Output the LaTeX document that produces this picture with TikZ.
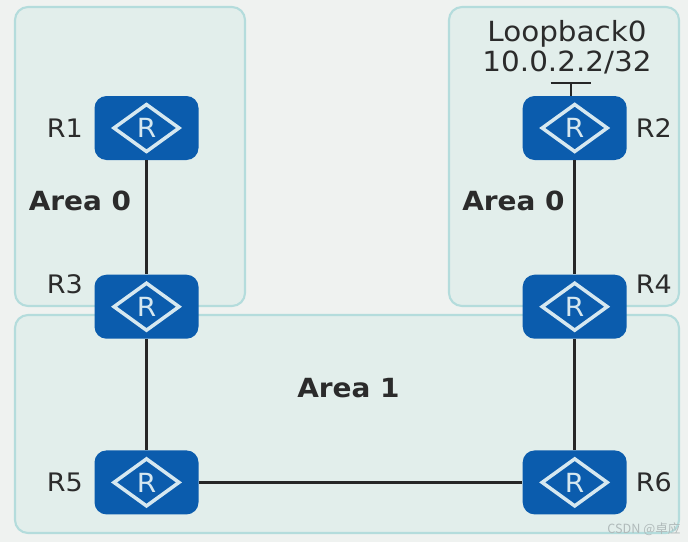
\documentclass[tikz,border=0pt]{standalone}
\usepackage{fontspec}
\setmainfont[FakeStretch=1.06]{DejaVu Sans}
\newfontfamily\cjkmark{Noto Sans CJK SC}
\usetikzlibrary{positioning}
\definecolor{pagebg}{HTML}{EFF2F0}
\definecolor{areafill}{HTML}{E2EEEB}
\definecolor{areaedge}{HTML}{B4DCDC}
\definecolor{routerblue}{HTML}{0B5CAD}
\definecolor{routerline}{HTML}{D6E8F0}
\definecolor{inktext}{HTML}{2B2B2B}
\definecolor{markgrey}{HTML}{B0BABA}

\begin{document}
\begin{tikzpicture}[
    node distance=2.25cm and 6.47cm,
    areabox/.style={draw=areaedge, line width=1.2pt, fill=areafill, rounded corners=0.26cm, inner sep=0pt},
    router/.style={fill=routerblue, rounded corners=0.24cm, minimum width=2.08cm, minimum height=1.28cm, inner sep=0pt,
        text=routerline, font=\fontsize{15}{15}\selectfont,
        path picture={\draw[routerline, line width=2pt, sharp corners]
            ([xshift=-0.65cm]path picture bounding box.center) -- ([yshift=0.47cm]path picture bounding box.center)
            -- ([xshift=0.65cm]path picture bounding box.center) -- ([yshift=-0.47cm]path picture bounding box.center) -- cycle;}},
    tag/.style={text=inktext, font=\fontsize{14.5}{14.5}\selectfont, inner sep=0pt},
    areatag/.style={text=inktext, font=\fontsize{15}{15}\selectfont\bfseries, inner sep=0pt},
    link/.style={draw=black!85, line width=1.6pt}
]
\useasboundingbox (0,0) rectangle (13.76,10.84);
\fill[pagebg] (0,0) rectangle (13.76,10.84);

\node[areabox, minimum width=4.6cm, minimum height=5.98cm] (area0l) at (2.6,7.71) {};
\node[areabox, minimum width=4.6cm, minimum height=5.98cm] (area0r) at (11.28,7.71) {};
\node[areabox, minimum width=13.28cm, minimum height=4.36cm] (area1) at (6.94,2.36) {};

\node[router] (r1) at (2.93,8.28) {R};
\node[router, below=2.28cm of r1] (r3) {R};
\node[router, below=2.22cm of r3] (r5) {R};
\node[router, right=of r1] (r2) {R};
\node[router, right=of r3] (r4) {R};
\node[router, right=of r5] (r6) {R};

\coordinate[above=0.26cm of r2.north, xshift=-0.08cm] (stub);
\coordinate[left=0.4cm of stub] (barl);
\coordinate[right=0.4cm of stub] (barr);

\draw[link] (r1) -- (r3);
\draw[link] (r3) -- (r5);
\draw[link] (r5) -- (r6);
\draw[link] (r2) -- (r4);
\draw[link] (r4) -- (r6);
\draw[link, line width=1.3pt] (stub) -- (stub |- r2.north);
\draw[link, line width=1.3pt] (barl) -- (barr);

\node[tag, left=0.22cm of r1] (lr1) {R1};
\node[tag, left=0.22cm of r3.west, yshift=0.44cm] (lr3) {R3};
\node[tag, left=0.22cm of r5] (lr5) {R5};
\node[tag, right=0.17cm of r2] (lr2) {R2};
\node[tag, right=0.17cm of r4.east, yshift=0.44cm] (lr4) {R4};
\node[tag, right=0.17cm of r6] (lr6) {R6};

\node[tag, align=center, font=\fontsize{15.8}{17}\selectfont] (loop) at (11.34,9.9) {Loopback0\\10.0.2.2/32};

\node[areatag] (a0l) at (1.6,6.82) {Area 0};
\node[areatag] (a0r) at (10.27,6.82) {Area 0};
\node[areatag] (a1) at (6.97,3.08) {Area 1};

\node[text=markgrey, font=\cjkmark\fontsize{7.2}{7.2}\selectfont, inner sep=0pt, anchor=south east] (mark) at (13.62,0.12) {CSDN @卓应};
\end{tikzpicture}
\end{document}
